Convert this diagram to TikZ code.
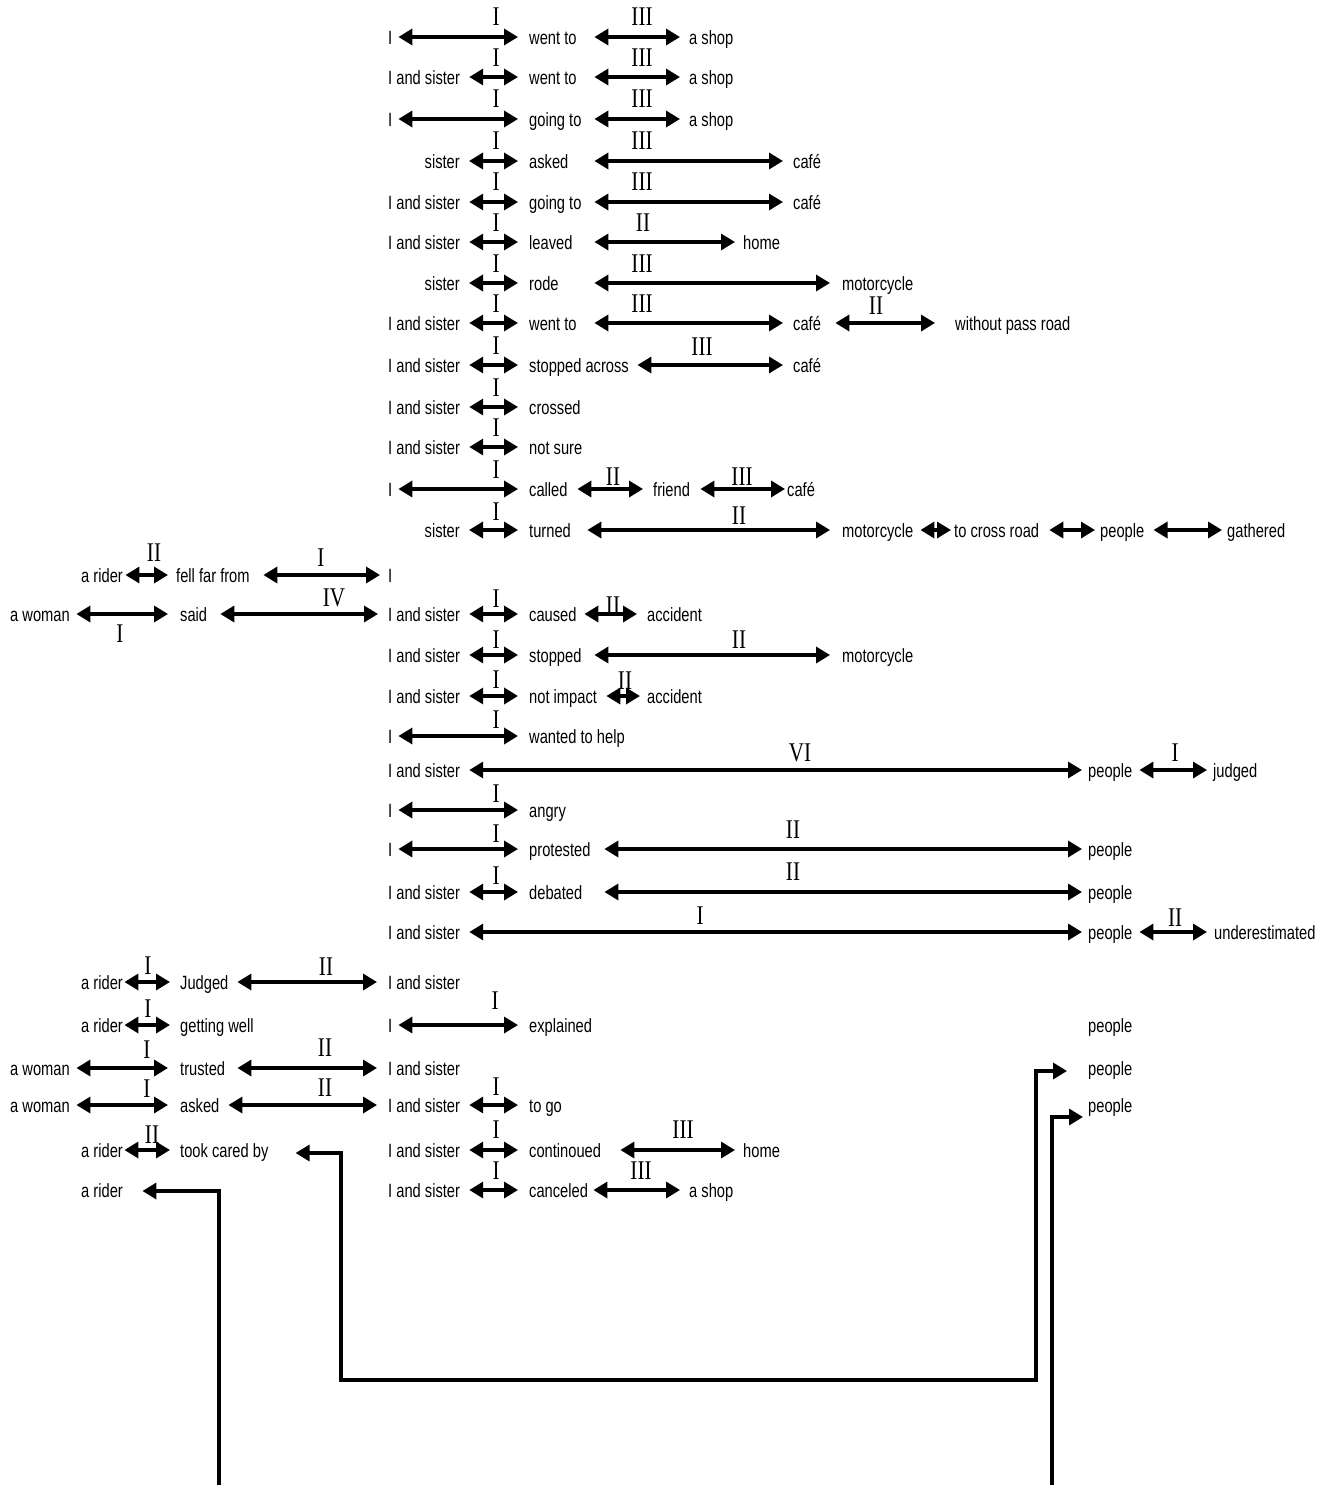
\documentclass[tikz,border=0pt]{standalone}
\usepackage{fontspec}
\usetikzlibrary{arrows.meta}
\newfontfamily\wfont[FakeStretch=0.765]{Liberation Sans}
\newfontfamily\nfont[FakeStretch=0.78]{Liberation Serif}
\tikzset{
  wrd/.style={font=\wfont\fontsize{19.2}{21}\selectfont, inner sep=0pt, text height=15pt, text depth=0pt, anchor=west},
  num/.style={font=\nfont\fontsize{27}{30}\selectfont, inner sep=0pt},
  arr/.style={line width=3.4pt, <->},
  lnk/.style={line width=3.4pt, ->},
  g/.style 2 args={shorten <=#1pt, shorten >=#2pt}
}
\begin{document}
\begin{tikzpicture}[x=1pt, y=-1pt, >={Triangle[length=14pt,width=16pt]}]
\useasboundingbox (0,0) rectangle (1338,1485);
% Row 1
\node[wrd] (r1a) at (388,37) {I};
\node[wrd] (r1b) at (529,37) {went to};
\node[wrd] (r1c) at (689,37) {a shop};
\draw[arr,g={5.9}{11}] (r1a) -- (r1b);
\draw[arr,g={17.6}{9}] (r1b) -- (r1c);
\node[num] (n1a) at (496,17) {I};
\node[num] (n1b) at (642,17) {III};
% Row 2
\node[wrd] (r2a) at (388,77) {I and sister};
\node[wrd] (r2b) at (529,77) {went to};
\node[wrd] (r2c) at (689,77) {a shop};
\draw[arr,g={9}{11}] (r2a) -- (r2b);
\draw[arr,g={17.6}{9}] (r2b) -- (r2c);
\node[num] (n2a) at (496,58) {I};
\node[num] (n2b) at (642,58) {III};
% Row 3
\node[wrd] (r3a) at (388,119) {I};
\node[wrd] (r3b) at (529,119) {going to};
\node[wrd] (r3c) at (689,119) {a shop};
\draw[arr,g={5.9}{11}] (r3a) -- (r3b);
\draw[arr,g={12.7}{9}] (r3b) -- (r3c);
\node[num] (n3a) at (496,99) {I};
\node[num] (n3b) at (642,99) {III};
% Row 4
\node[wrd,anchor=east] (r4a) at (460,161) {sister};
\node[wrd] (r4b) at (529,161) {asked};
\node[wrd] (r4c) at (793,161) {café};
\draw[arr,g={9}{11}] (r4a) -- (r4b);
\draw[arr,g={25.8}{10}] (r4b) -- (r4c);
\node[num] (n4a) at (496,141) {I};
\node[num] (n4b) at (642,141) {III};
% Row 5
\node[wrd] (r5a) at (388,202) {I and sister};
\node[wrd] (r5b) at (529,202) {going to};
\node[wrd] (r5c) at (793,202) {café};
\draw[arr,g={9}{11}] (r5a) -- (r5b);
\draw[arr,g={12.7}{10}] (r5b) -- (r5c);
\node[num] (n5a) at (496,182) {I};
\node[num] (n5b) at (642,182) {III};
% Row 6
\node[wrd] (r6a) at (388,242) {I and sister};
\node[wrd] (r6b) at (529,242) {leaved};
\node[wrd] (r6c) at (743,242) {home};
\draw[arr,g={9}{11}] (r6a) -- (r6b);
\draw[arr,g={21.7}{8}] (r6b) -- (r6c);
\node[num] (n6a) at (496,223) {I};
\node[num] (n6b) at (643,223) {II};
% Row 7
\node[wrd,anchor=east] (r7a) at (460,283) {sister};
\node[wrd] (r7b) at (529,283) {rode};
\node[wrd] (r7c) at (842,283) {motorcycle};
\draw[arr,g={9}{11}] (r7a) -- (r7b);
\draw[arr,g={35.6}{12}] (r7b) -- (r7c);
\node[num] (n7a) at (496,264) {I};
\node[num] (n7b) at (642,264) {III};
% Row 8
\node[wrd] (r8a) at (388,323) {I and sister};
\node[wrd] (r8b) at (529,323) {went to};
\node[wrd] (r8c) at (793,323) {café};
\node[wrd] (r8d) at (955,323) {without pass road};
\draw[arr,g={9}{11}] (r8a) -- (r8b);
\draw[arr,g={17.6}{10}] (r8b) -- (r8c);
\draw[arr,g={14.2}{20}] (r8c) -- (r8d);
\node[num] (n8a) at (496,304) {I};
\node[num] (n8b) at (642,304) {III};
\node[num] (n8c) at (876,306) {II};
% Row 9
\node[wrd] (r9a) at (388,365) {I and sister};
\node[wrd] (r9b) at (529,365) {stopped across};
\node[wrd] (r9c) at (793,365) {café};
\draw[arr,g={9}{11}] (r9a) -- (r9b);
\draw[arr,g={8.4}{10}] (r9b) -- (r9c);
\node[num] (n9a) at (496,346) {I};
\node[num] (n9b) at (702,347) {III};
% Row 10
\node[wrd] (r10a) at (388,407) {I and sister};
\node[wrd] (r10b) at (529,407) {crossed};
\draw[arr,g={9}{11}] (r10a) -- (r10b);
\node[num] (n10a) at (496,388) {I};
% Row 11
\node[wrd] (r11a) at (388,447) {I and sister};
\node[wrd] (r11b) at (529,447) {not sure};
\draw[arr,g={9}{11}] (r11a) -- (r11b);
\node[num] (n11a) at (496,428) {I};
% Row 12
\node[wrd] (r12a) at (388,489) {I};
\node[wrd] (r12b) at (529,489) {called};
\node[wrd] (r12c) at (653,489) {friend};
\node[wrd] (r12d) at (787,489) {café};
\draw[arr,g={5.9}{11}] (r12a) -- (r12b);
\draw[arr,g={9.6}{10}] (r12b) -- (r12c);
\draw[arr,g={10.3}{2}] (r12c) -- (r12d);
\node[num] (n12a) at (496,470) {I};
\node[num] (n12b) at (613,477) {II};
\node[num] (n12c) at (742,477) {III};
% Row 13
\node[wrd,anchor=east] (r13a) at (460,530) {sister};
\node[wrd] (r13b) at (529,530) {turned};
\node[wrd] (r13c) at (842,530) {motorcycle};
\node[wrd] (r13d) at (954,530) {to cross road};
\node[wrd] (r13e) at (1100,530) {people};
\node[wrd] (r13f) at (1227,530) {gathered};
\draw[arr,g={9}{11}] (r13a) -- (r13b);
\draw[arr,g={16.3}{12}] (r13b) -- (r13c);
\draw[arr,g={7}{3}] (r13c) -- (r13d);
\draw[arr,g={10}{5}] (r13d) -- (r13e);
\draw[arr,g={9}{5}] (r13e) -- (r13f);
\node[num] (n13a) at (496,512) {I};
\node[num] (n13b) at (739,516) {II};
% Row 14
\node[wrd] (r14a) at (81,575) {a rider};
\node[wrd] (r14b) at (176,575) {fell far from};
\node[wrd] (r14c) at (388,575) {I};
\draw[arr,g={2.4}{8}] (r14a) -- (r14b);
\draw[arr,g={13.5}{8}] (r14b) -- (r14c);
\node[num] (n14a) at (154,553) {II};
\node[num] (n14b) at (321,558) {I};
% Row 15
\node[wrd] (r15a) at (10,614) {a woman};
\node[wrd] (r15b) at (180,614) {said};
\node[wrd] (r15c) at (388,614) {I and sister};
\node[wrd] (r15d) at (529,614) {caused};
\node[wrd] (r15e) at (647,614) {accident};
\draw[arr,g={6.4}{12}] (r15a) -- (r15b);
\draw[arr,g={13}{10}] (r15b) -- (r15c);
\draw[arr,g={9}{11}] (r15c) -- (r15d);
\draw[arr,g={7.6}{10}] (r15d) -- (r15e);
\node[num] (n15a) at (334,598) {IV};
\node[num] (n15b) at (120,634) {I};
\node[num] (n15c) at (496,599) {I};
\node[num] (n15d) at (613,606) {II};
% Row 16
\node[wrd] (r16a) at (388,655) {I and sister};
\node[wrd] (r16b) at (529,655) {stopped};
\node[wrd] (r16c) at (842,655) {motorcycle};
\draw[arr,g={9}{11}] (r16a) -- (r16b);
\draw[arr,g={12.7}{12}] (r16b) -- (r16c);
\node[num] (n16a) at (496,640) {I};
\node[num] (n16b) at (739,640) {II};
% Row 17
\node[wrd] (r17a) at (388,696) {I and sister};
\node[wrd] (r17b) at (529,696) {not impact};
\node[wrd] (r17c) at (647,696) {accident};
\draw[arr,g={9}{11}] (r17a) -- (r17b);
\draw[arr,g={9.2}{7}] (r17b) -- (r17c);
\node[num] (n17a) at (496,680) {I};
\node[num] (n17b) at (625,681) {II};
% Row 18
\node[wrd] (r18a) at (388,736) {I};
\node[wrd] (r18b) at (529,736) {wanted to help};
\draw[arr,g={5.9}{11}] (r18a) -- (r18b);
\node[num] (n18a) at (496,720) {I};
% Row 19
\node[wrd] (r19a) at (388,770) {I and sister};
\node[wrd] (r19b) at (1088,770) {people};
\node[wrd] (r19c) at (1213,770) {judged};
\draw[arr,g={9}{6}] (r19a) -- (r19b);
\draw[arr,g={6.9}{6}] (r19b) -- (r19c);
\node[num] (n19a) at (800,753) {VI};
\node[num] (n19b) at (1175,753) {I};
% Row 20
\node[wrd] (r20a) at (388,810) {I};
\node[wrd] (r20b) at (529,810) {angry};
\draw[arr,g={5.9}{11}] (r20a) -- (r20b);
\node[num] (n20a) at (496,794) {I};
% Row 21
\node[wrd] (r21a) at (388,849) {I};
\node[wrd] (r21b) at (529,849) {protested};
\node[wrd] (r21c) at (1088,849) {people};
\draw[arr,g={5.9}{11}] (r21a) -- (r21b);
\draw[arr,g={13.7}{6}] (r21b) -- (r21c);
\node[num] (n21a) at (496,834) {I};
\node[num] (n21b) at (793,830) {II};
% Row 22
\node[wrd] (r22a) at (388,892) {I and sister};
\node[wrd] (r22b) at (529,892) {debated};
\node[wrd] (r22c) at (1088,892) {people};
\draw[arr,g={9}{11}] (r22a) -- (r22b);
\draw[arr,g={21.9}{6}] (r22b) -- (r22c);
\node[num] (n22a) at (496,876) {I};
\node[num] (n22b) at (793,872) {II};
% Row 23
\node[wrd] (r23a) at (388,932) {I and sister};
\node[wrd] (r23b) at (1088,932) {people};
\node[wrd] (r23c) at (1214,932) {underestimated};
\draw[arr,g={9}{6}] (r23a) -- (r23b);
\draw[arr,g={6.9}{7}] (r23b) -- (r23c);
\node[num] (n23a) at (700,916) {I};
\node[num] (n23b) at (1175,918) {II};
% Row 24
\node[wrd] (r24a) at (81,982) {a rider};
\node[wrd] (r24b) at (180,982) {Judged};
\node[wrd] (r24c) at (388,982) {I and sister};
\draw[arr,g={1.4}{10}] (r24a) -- (r24b);
\draw[arr,g={8.8}{11}] (r24b) -- (r24c);
\node[num] (n24a) at (148,966) {I};
\node[num] (n24b) at (326,967) {II};
% Row 25
\node[wrd] (r25a) at (81,1025) {a rider};
\node[wrd] (r25b) at (180,1025) {getting well};
\node[wrd] (r25c) at (388,1025) {I};
\node[wrd] (r25d) at (529,1025) {explained};
\node[wrd] (r25e) at (1088,1025) {people};
\draw[arr,g={1.4}{10}] (r25a) -- (r25b);
\draw[arr,g={5.9}{11}] (r25c) -- (r25d);
\node[num] (n25a) at (148,1009) {I};
\node[num] (n25b) at (495,1001) {I};
% Row 26
\node[wrd] (r26a) at (10,1068) {a woman};
\node[wrd] (r26b) at (180,1068) {trusted};
\node[wrd] (r26c) at (388,1068) {I and sister};
\node[wrd] (r26d) at (1088,1068) {people};
\draw[arr,g={6.4}{12}] (r26a) -- (r26b);
\draw[arr,g={12.1}{11}] (r26b) -- (r26c);
\node[num] (n26a) at (147,1050) {I};
\node[num] (n26b) at (325,1048) {II};
% Row 27
\node[wrd] (r27a) at (10,1105) {a woman};
\node[wrd] (r27b) at (180,1105) {asked};
\node[wrd] (r27c) at (388,1105) {I and sister};
\node[wrd] (r27d) at (529,1105) {to go};
\node[wrd] (r27e) at (1088,1105) {people};
\draw[arr,g={6.4}{12}] (r27a) -- (r27b);
\draw[arr,g={8.8}{11}] (r27b) -- (r27c);
\draw[arr,g={9}{11}] (r27c) -- (r27d);
\node[num] (n27a) at (147,1089) {I};
\node[num] (n27b) at (325,1088) {II};
\node[num] (n27c) at (496,1087) {I};
% Row 28
\node[wrd] (r28a) at (81,1150) {a rider};
\node[wrd] (r28b) at (180,1150) {took cared by};
\node[wrd] (r28c) at (388,1150) {I and sister};
\node[wrd] (r28d) at (529,1150) {continoued};
\node[wrd] (r28e) at (743,1150) {home};
\draw[arr,g={1.4}{10}] (r28a) -- (r28b);
\draw[arr,g={9}{11}] (r28c) -- (r28d);
\draw[arr,g={19.1}{8}] (r28d) -- (r28e);
\node[num] (n28a) at (152,1135) {II};
\node[num] (n28b) at (496,1130) {I};
\node[num] (n28c) at (683,1130) {III};
% Row 29
\node[wrd] (r29a) at (81,1190) {a rider};
\node[wrd] (r29b) at (388,1190) {I and sister};
\node[wrd] (r29c) at (529,1190) {canceled};
\node[wrd] (r29d) at (689,1190) {a shop};
\draw[arr,g={9}{11}] (r29b) -- (r29c);
\draw[arr,g={5.2}{9}] (r29c) -- (r29d);
\node[num] (n29a) at (496,1171) {I};
\node[num] (n29b) at (641,1171) {III};
% Long connectors
\coordinate (k1) at (341,1380);
\coordinate (k2) at (1036,1380);
\coordinate (k3) at (219,1485);
\coordinate (k4) at (1052,1485);
\draw[arr] ([xshift=-21pt,yshift=-3pt]r26d.west) -| (k2) -- (k1) |- ([xshift=27pt,yshift=-3pt]r28b.east);
\draw[lnk] (k3) |- ([xshift=19.4pt,yshift=-1pt]r29a.east);
\draw[lnk] (k4) |- ([xshift=-5pt,yshift=-12pt]r27e.west);
\end{tikzpicture}
\end{document}
